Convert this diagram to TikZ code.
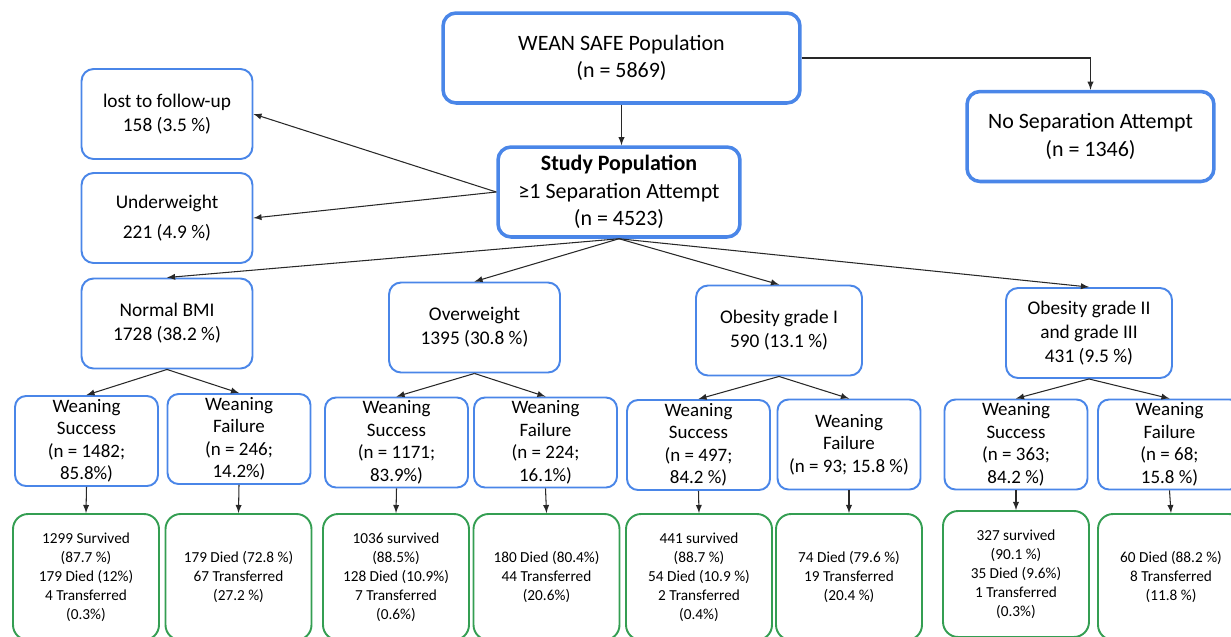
\documentclass[tikz,border=0pt]{standalone}
\usepackage{fontspec}
\setmainfont{Carlito}
\usetikzlibrary{shapes,arrows,positioning,calc}
\definecolor{boxblue}{RGB}{74,134,232}
\definecolor{boxgreen}{RGB}{52,158,82}
\definecolor{linkgray}{RGB}{40,40,40}

\tikzset{
  bigbox/.style={draw=boxblue, line width=2pt, rounded corners=0.26cm, align=center,
    font=\fontsize{12.5}{15.8}\selectfont, minimum height=1.8cm},
  midbox/.style={draw=boxblue, line width=1.1pt, rounded corners=0.24cm, align=center,
    font=\fontsize{11}{13.7}\selectfont, minimum width=3.42cm, minimum height=1.8cm},
  weanbox/.style={draw=boxblue, line width=1.1pt, rounded corners=0.22cm, align=center,
    font=\fontsize{10.8}{12.8}\selectfont, minimum width=2.86cm, minimum height=1.8cm, inner sep=1pt},
  outbox/.style={draw=boxgreen, line width=1.1pt, rounded corners=0.3cm, align=center,
    font=\fontsize{8.7}{10.8}\selectfont, minimum width=2.92cm, minimum height=2.52cm},
  link/.style={->, >=latex, draw=linkgray, line width=0.6pt}
}

\begin{document}
\begin{tikzpicture}[x=0.02cm, y=-0.02cm]
    \useasboundingbox (0,0) rectangle (1231,636);
    \clip (0,0) rectangle (1231,636);

    % Population
    \node[bigbox, minimum width=7.14cm] (wean) at (621.5,58) {WEAN SAFE Population\\(n = 5869)};
    \node[bigbox, minimum width=4.94cm] (nosep) at (1090.5,136.5) {No Separation Attempt\\(n = 1346)};
    \node[bigbox, minimum width=4.84cm] (study) at (619,192) {\textbf{Study Population}\\≥1 Separation Attempt\\(n = 4523)};

    % Excluded
    \node[midbox] (lost) at (167,114) {lost to follow-up\\158 (3.5 \%)};
    \node[midbox] (under) at (167,218) {Underweight\\[3pt]221 (4.9 \%)};

    % BMI groups
    \node[midbox] (normal) at (167,323.5) {Normal BMI\\1728 (38.2 \%)};
    \node[midbox] (over) at (474.5,327.5) {Overweight\\1395 (30.8 \%)};
    \node[midbox, minimum width=3.32cm] (obone) at (779,330.5) {Obesity grade I\\590 (13.1 \%)};
    \node[midbox, minimum width=3.32cm] (obtwo) at (1089,333) {Obesity grade II\\and grade III\\431 (9.5 \%)};

    % Weaning outcome
    \node[weanbox] (normalS) at (86.5,441) {Weaning\\Success\\(n = 1482;\\85.8\%)};
    \node[weanbox] (normalF) at (239,439) {Weaning\\Failure\\(n = 246;\\14.2\%)};
    \node[weanbox] (overS) at (396.5,442.5) {Weaning\\Success\\(n = 1171;\\83.9\%)};
    \node[weanbox] (overF) at (545.5,442.5) {Weaning\\Failure\\(n = 224;\\16.1\%)};
    \node[weanbox] (oboneS) at (698.5,445) {Weaning\\Success\\(n = 497;\\84.2 \%)};
    \node[weanbox] (oboneF) at (849,444.5) {Weaning\\Failure\\(n = 93; 15.8 \%)};
    \node[weanbox] (obtwoS) at (1016,444.5) {Weaning\\Success\\(n = 363;\\84.2 \%)};
    \node[weanbox] (obtwoF) at (1169.5,444.5) {Weaning\\Failure\\(n = 68;\\15.8 \%)};

    % Hospital outcome
    \node[outbox] (normalSo) at (86,577) {1299 Survived\\(87.7 \%)\\179 Died (12\%)\\4 Transferred\\(0.3\%)};
    \node[outbox] (normalFo) at (238.5,577) {179 Died (72.8 \%)\\67 Transferred\\(27.2 \%)};
    \node[outbox] (overSo) at (396,577) {1036 survived\\(88.5\%)\\128 Died (10.9\%)\\7 Transferred\\(0.6\%)};
    \node[outbox] (overFo) at (546.5,577) {180 Died (80.4\%)\\44 Transferred\\(20.6\%)};
    \node[outbox] (oboneSo) at (699,577) {441 survived\\(88.7 \%)\\54 Died (10.9 \%)\\2 Transferred\\(0.4\%)};
    \node[outbox] (oboneFo) at (849,577) {74 Died (79.6 \%)\\19 Transferred\\(20.4 \%)};
    \node[outbox] (obtwoSo) at (1016,574) {327 survived\\(90.1 \%)\\35 Died (9.6\%)\\1 Transferred\\(0.3\%)};
    \node[outbox] (obtwoFo) at (1171,577) {60 Died (88.2 \%)\\8 Transferred\\(11.8 \%)};

    % Links
    \draw[link] (wean.south) -- (wean.south |- study.north);
    \draw[link] (wean.east) -| (nosep.north);
    \draw[link] (study.west) -- (lost.east);
    \draw[link] (study.west) -- (under.east);
    \draw[link] (study.south) -- (normal.north);
    \draw[link] (study.south) -- (over.north);
    \draw[link] (study.south) -- (obone.north);
    \draw[link] (study.south) -- (obtwo.north);
    \foreach \g in {normal,over,obone,obtwo} {
        \draw[link] (\g.south) -- (\g S.north);
        \draw[link] (\g.south) -- (\g F.north);
        \draw[link] (\g S.south) -- (\g So.north);
        \draw[link] (\g F.south) -- (\g Fo.north);
    }
\end{tikzpicture}
\end{document}
